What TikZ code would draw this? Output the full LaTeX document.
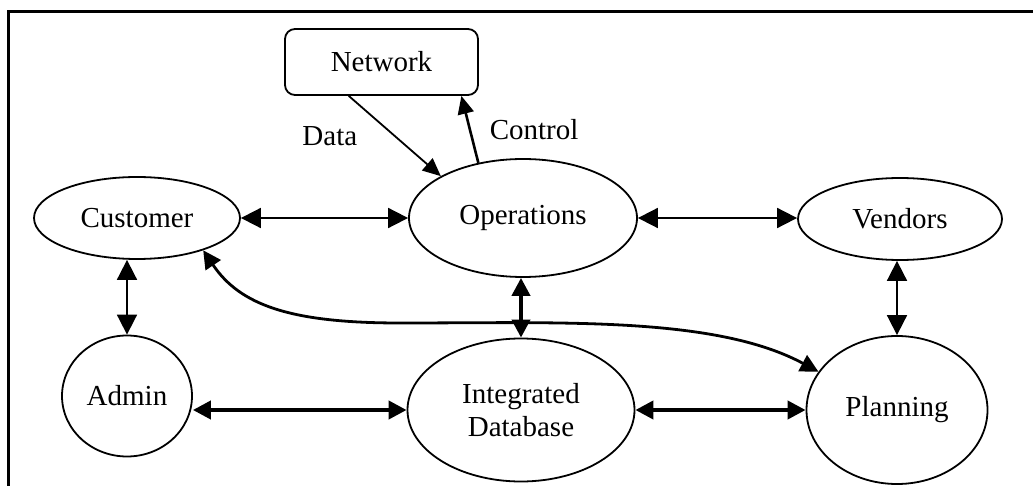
\documentclass[tikz,border=0pt]{standalone}
\usepackage{fontspec}
\setmainfont{Liberation Serif}
\usetikzlibrary{arrows.meta,positioning,shapes.geometric}

\begin{document}
\begin{tikzpicture}[
            x=0.5pt, y=-0.5pt,
            every node/.style={font=\fontsize{14.5}{16.5}\selectfont},
            unit/.style={
                draw,
                ellipse,
                line width=0.9pt,
                inner sep=0pt,
                align=center
            },
            box/.style={
                draw,
                rounded corners=5pt,
                line width=0.9pt,
                minimum width=96.5pt,
                minimum height=33pt
            },
            flow/.style={<->, >={Triangle[length=10pt,width=10pt]}, line width=0.9pt},
            bus/.style={<->, >={Triangle[length=9pt,width=9pt]}, line width=2pt},
            link/.style={<->, >={Triangle[length=9pt,width=9pt]}, line width=1.4pt},
            feed/.style={->, >={Triangle[length=9pt,width=8pt]}, line width=0.9pt},
            frame/.style={line width=1.5pt}
        ]

            \useasboundingbox (0,0) rectangle (1033,486);

            \draw[frame] (1045,12) -- (8,12) -- (8,500);

            \node[box] (network) at (381.5,62) {Network};

            \node[unit, minimum width=103pt, minimum height=41pt]
                (customer) at (137,218) {Customer};
            \node[unit, minimum width=114pt, minimum height=59pt]
                (operations) at (523,218) {Operations};
            \node[unit, minimum width=102pt, minimum height=41pt]
                (vendors) at (900,219) {Vendors};

            \node[unit, minimum width=65pt, minimum height=60.5pt]
                (admin) at (127,396) {Admin};
            \node[unit, minimum width=113.5pt, minimum height=71.5pt]
                (database) at (521,410) {Integrated\\Database};
            \node[unit, minimum width=90.5pt, minimum height=74pt]
                (planning) at (897,410) {Planning};

            \draw[feed]
                (network.-134)
                -- node[midway, left=15pt] {Data}
                (operations.153);

            \draw[feed, line width=1.3pt]
                (operations.129)
                -- node[midway, right=6pt] {Control}
                (network.-23);

            \draw[flow]
                (customer.east) -- (customer.east -| operations.west);
            \draw[flow]
                (operations.east) -- (operations.east -| vendors.west);
            \draw[flow]
                (customer.south -| admin.north) -- (admin.north);
            \draw[flow]
                (vendors.south -| planning.north) -- (planning.north);

            \draw[bus]
                (operations.south -| database.north) -- (database.north);
            \draw[bus]
                (database.west -| admin.east) -- (database.west);
            \draw[bus]
                (database.east) -- (planning.west);

            \draw[link]
                (customer.-26)
                .. controls (240,305) and (290,323) .. (400,323)
                .. controls (560,323) and (715,316) .. (planning.154);

        \end{tikzpicture}
\end{document}
